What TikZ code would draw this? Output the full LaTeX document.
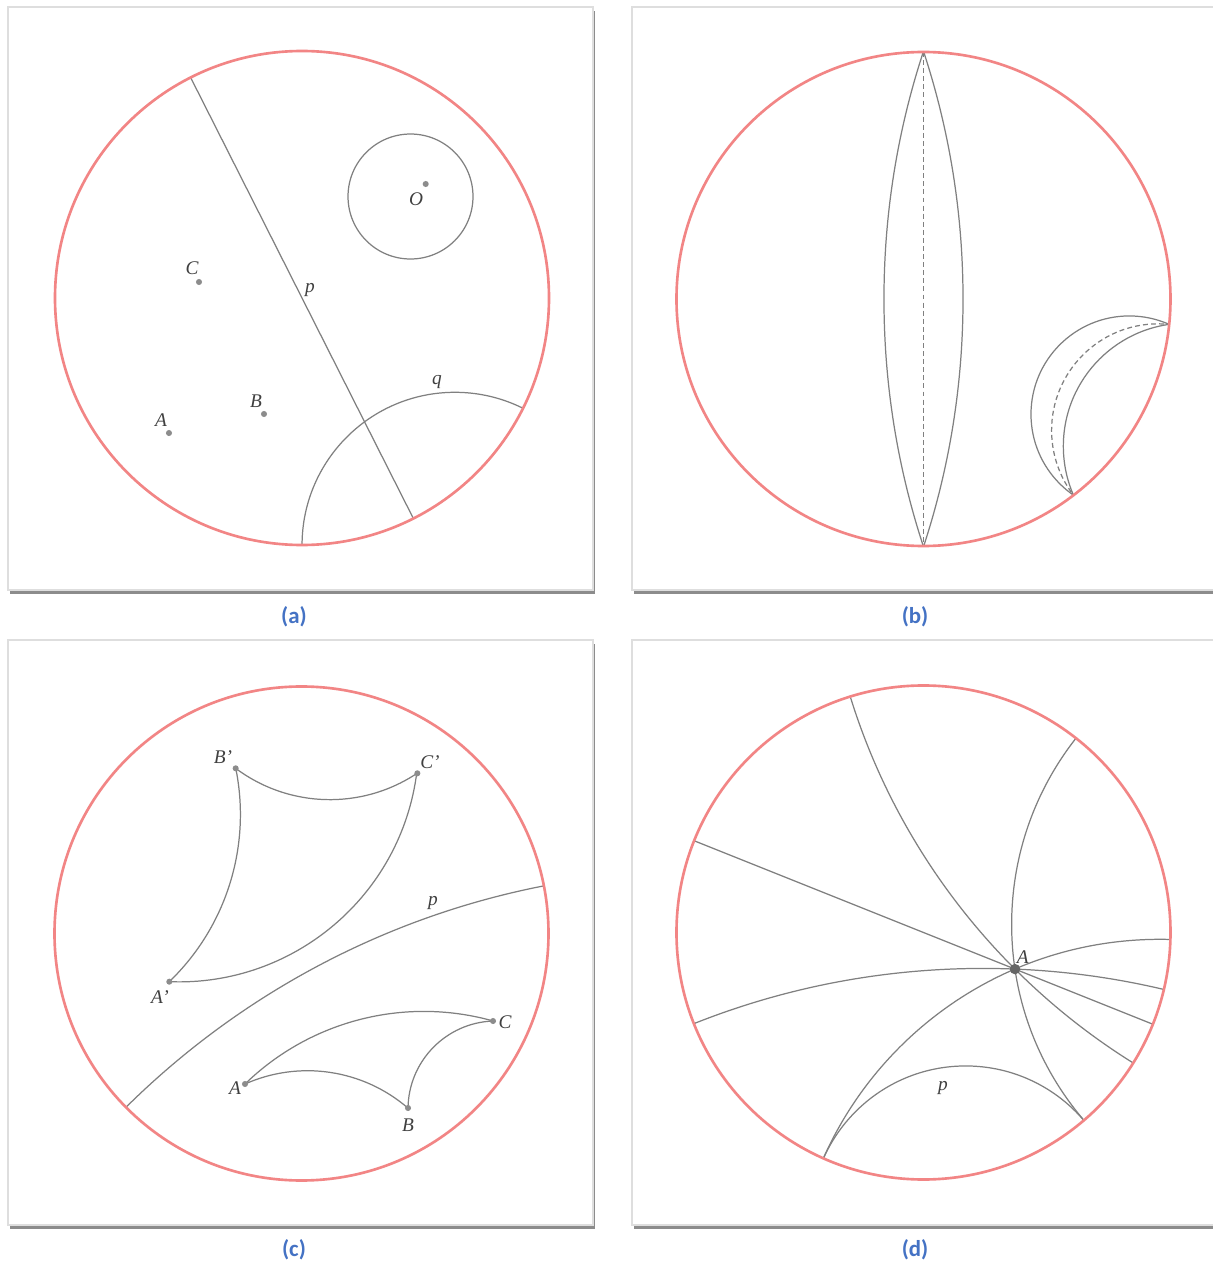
\documentclass[tikz,border=0pt]{standalone}
\usepackage{fontspec}
\setmainfont{Liberation Serif}
\newfontfamily\titelfont{Carlito}
\usetikzlibrary{shadows}

\definecolor{rand}{RGB}{242,133,133}
\definecolor{grau}{RGB}{128,128,128}
\definecolor{blau}{RGB}{68,114,196}

\tikzset{
  rahmen/.style={draw=black!13, fill=white,
    drop shadow={shadow xshift=0.7pt, shadow yshift=-1pt, fill=black!60, opacity=0.75}},
  scheibe/.style={draw=rand, line width=0.75pt},
  linie/.style={draw=grau, line width=0.35pt},
  strich/.style={linie, dash pattern=on 1.4pt off 0.9pt},
  punkt/.style={fill=black!45},
  marke/.style={font=\fontsize{5.5}{6.5}\selectfont\itshape, text=black!75, inner sep=0pt},
  titel/.style={font=\titelfont\bfseries\fontsize{6.5}{7.5}\selectfont, text=blau}
}

\begin{document}
\begin{tikzpicture}
\useasboundingbox (0,0) rectangle (12.13,12.63);
\fill[white] (0,0) rectangle (12.13,12.63);

% Rahmen
\path[rahmen] (0.08,6.73) rectangle (5.93,12.56);
\path[rahmen] (6.32,6.73) rectangle (12.30,12.56);
\path[rahmen] (0.08,0.38) rectangle (5.93,6.23);
\path[rahmen] (6.32,0.38) rectangle (12.30,6.23);

% Bild (a)
\begin{scope}[shift={(3.02,9.65)}, scale=2.47]
  \begin{scope}
    \clip (0,0) circle (1);
    % Gerade p
    \draw[linie] (116.8:1) -- (296.8:1);
    % Gerade q
    \draw[linie] (0.619,-1.0006) circle (0.6188);
  \end{scope}
  % Kreis um O
  \draw[linie] (0.4393,0.4109) circle (0.253);
  \draw[scheibe] (0,0) circle (1);
  % Punkte
  \coordinate (aA) at (-0.5385,-0.5466);
  \coordinate (aB) at (-0.1538,-0.4696);
  \coordinate (aC) at (-0.4170,0.0648);
  \coordinate (aO) at (0.5008,0.4615);
  \fill[punkt] (aA) circle (0.35pt);
  \fill[punkt] (aB) circle (0.35pt);
  \fill[punkt] (aC) circle (0.35pt);
  \fill[punkt] (aO) circle (0.35pt);
  \node[marke] (aLA) at (-0.5709,-0.4939) {A};
  \node[marke] (aLB) at (-0.1862,-0.4170) {B};
  \node[marke] (aLC) at (-0.4453,0.1215) {C};
  \node[marke] (aLO) at (0.4615,0.4008) {O};
  \node[marke] (aLp) at (0.0324,0.0324) {p};
  \node[marke] (aLq) at (0.5466,-0.3401) {q};
\end{scope}
\node[titel] (ta) at (2.94,6.46) {(a)};

% Bild (b)
\begin{scope}[shift={(9.235,9.64)}, scale=2.47]
  \begin{scope}
    \clip (0,0) circle (1);
    % Linse um den Durchmesser
    \draw[strich] (0,1) -- (0,-1);
    \draw[linie] (-3.045,0) circle (3.205);
    \draw[linie] (3.045,0) circle (3.205);
    % Sichel am Rand
    \draw[strich] (0.9503,-0.5322) circle (0.4317);
    \draw[linie] (0.8332,-0.4666) circle (0.398);
    \draw[linie] (1.0645,-0.5961) circle (0.4983);
  \end{scope}
  \draw[scheibe] (0,0) circle (1);
\end{scope}
\node[titel] (tb) at (9.15,6.46) {(b)};

% Bild (c)
\begin{scope}[shift={(3.015,3.295)}, scale=2.47]
  \begin{scope}
    \clip (0,0) circle (1);
    % Gerade p
    \draw[linie] (1.619,-3.058) circle (3.3122);
  \end{scope}
  \draw[scheibe] (0,0) circle (1);
  % Dreieck ABC
  \coordinate (cA) at (-0.2287,-0.6093);
  \coordinate (cB) at (0.4312,-0.7065);
  \coordinate (cC) at (0.7753,-0.3543);
  \draw[linie] (cA) arc[start angle=114.0, end angle=49.2, radius=0.6222];
  \draw[linie] (cA) arc[start angle=134.2, end angle=74.3, radius=1.0383];
  \draw[linie] (cB) arc[start angle=179.2, end angle=92.1, radius=0.3575];
  % Bilddreieck A'B'C'
  \coordinate (cA2) at (-0.5352,-0.1951);
  \coordinate (cB2) at (-0.2665,0.6687);
  \coordinate (cC2) at (0.4690,0.6485);
  \draw[linie] (cA2) arc[start angle=-46.1, end angle=11.6, radius=0.9392];
  \draw[linie] (cB2) arc[start angle=233.2, end angle=303.6, radius=0.6370];
  \draw[linie] (cA2) arc[start angle=-92.3, end angle=-7.3, radius=0.9710];
  \foreach \p in {cA,cB,cC,cA2,cB2,cC2}
    \fill[punkt] (\p) circle (0.35pt);
  \node[marke] (cLA) at (-0.2692,-0.6275) {A};
  \node[marke] (cLB) at (0.4312,-0.7757) {B};
  \node[marke] (cLC) at (0.8239,-0.3583) {C};
  \node[marke] (cLA2) at (-0.5729,-0.2571) {A'};
  \node[marke] (cLB2) at (-0.3178,0.7146) {B'};
  \node[marke] (cLC2) at (0.5202,0.6943) {C'};
  \node[marke] (cLp) at (0.5324,0.1235) {p};
\end{scope}
\node[titel] (tc) at (2.94,0.13) {(c)};

% Bild (d)
\begin{scope}[shift={(9.235,3.305)}, scale=2.47]
  \coordinate (dA) at (0.3703,-0.1481);
  \begin{scope}
    \clip (0,0) circle (1);
    % Geraden durch A
    \draw[linie] (158.2:1) -- (338.2:1);
    \foreach \cx/\cy/\r in {2.264/1.748/2.6798, 1.578/0.0327/1.2211,
                            0.2409/-3.310/3.1645, 0.9576/-1.518/1.4904}
      \draw[linie] (\cx,\cy) circle (\r);
    % Gerade p
    \draw[linie] (0.1707,-1.170) circle (0.6297);
  \end{scope}
  \draw[scheibe] (0,0) circle (1);
  \fill[black!60] (dA) circle (0.6pt);
  \node[marke] (dLA) at (0.4016,-0.0992) {A};
  \node[marke] (dLp) at (0.0789,-0.6296) {p};
\end{scope}
\node[titel] (td) at (9.15,0.13) {(d)};

\end{tikzpicture}
\end{document}
